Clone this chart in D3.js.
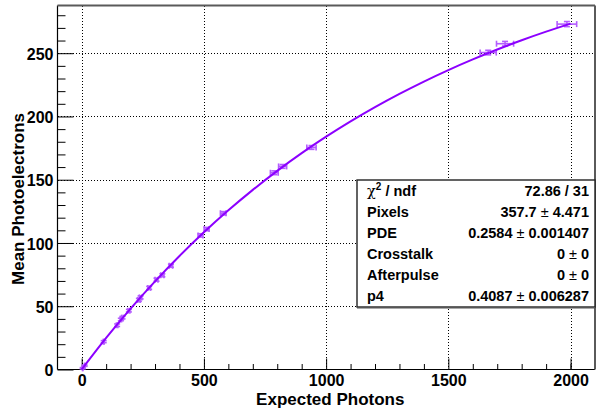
<!DOCTYPE html>
<html><head><meta charset="utf-8">
<script src="https://cdn.jsdelivr.net/npm/d3@7/dist/d3.min.js"></script>
<style>
html,body{margin:0;padding:0;background:#fff;}
svg{display:block;font-family:"Liberation Sans",Arial,Helvetica,sans-serif;font-weight:bold;}
</style></head>
<body>
<svg id="chart" width="596" height="408"></svg>
<script>
// ---- data ----
const photons   = [4, 12, 90, 145, 160, 167, 193, 234, 241, 276, 306, 330, 365, 486, 511, 579, 788, 822, 940, 1663, 1732, 1985];
const meanPE    = [1.0, 3.0, 22.0, 35.0, 39.5, 41.0, 46.5, 55.0, 57.0, 64.5, 71.0, 74.5, 82.0, 106.0, 111.0, 123.5, 155.5, 160.5, 175.5, 250.5, 257.5, 273.0];
const photonErr = [1, 1, 2, 3, 3, 3.5, 4, 5, 5, 5.5, 6, 6.5, 7, 10, 10, 11.5, 16, 16.5, 19, 33, 35, 40];
const peErr     = [0.5, 0.5, 0.8, 1.0, 1.0, 1.0, 1.0, 1.2, 1.2, 1.2, 1.2, 1.2, 1.2, 1.3, 1.3, 1.3, 1.5, 1.5, 1.5, 1.8, 1.8, 2.0];
// fit curve, sampled every 100 photons
const fitX = [0, 100, 200, 300, 400, 500, 600, 700, 800, 900, 1000, 1100, 1200, 1300, 1400, 1500, 1600, 1700, 1800, 1900, 2000];
const fitY = [0, 24.93, 48.12, 69.68, 89.73, 108.45, 125.80, 141.97, 157.00, 170.98, 184.0, 196.10, 207.37, 217.84, 227.59, 236.66, 245.10, 252.94, 260.25, 267.04, 273.36];
const xMajor = [0, 500, 1000, 1500, 2000];
const xMinor = [100, 200, 300, 400, 600, 700, 800, 900, 1100, 1200, 1300, 1400, 1600, 1700, 1800, 1900, 2000];
const yMajor = [0, 50, 100, 150, 200, 250];
const yMinor = [10, 20, 30, 40, 60, 70, 80, 90, 110, 120, 130, 140, 160, 170, 180, 190, 210, 220, 230, 240, 260, 270, 280];
const statLabels = ["χ2 / ndf", "Pixels", "PDE", "Crosstalk", "Afterpulse", "p4"];
const statValues = ["72.86 / 31", "357.7 ± 4.471", "0.2584 ± 0.001407", "0 ±|0", "0 ±|0", "0.4087 ± 0.006287"];
const xTitle = "Expected Photons";
const yTitle = "Mean Photoelectrons";

// ---- layout ----
const L = 57.5, R = 595, T = 5.5, B = 369.5;
const svg = d3.select("#chart");
const x = d3.scaleLinear().domain([-99, 2100]).range([L, R]);
const y = d3.scaleLinear().domain([0, 287.7]).range([B, T]);
const lineCol = "#8c00ff", errCol = "#b45cff";

// grid
const grid = svg.append("g");
grid.selectAll("line.gx").data(xMajor).join("line").attr("class", "gx")
  .attr("x1", d => Math.round(x(d)) + 0.5).attr("x2", d => Math.round(x(d)) + 0.5)
  .attr("y1", 6).attr("y2", 369);
grid.selectAll("line.gy").data(yMajor.filter(d => d > 0)).join("line").attr("class", "gy")
  .attr("y1", d => Math.round(y(d)) + 0.5).attr("y2", d => Math.round(y(d)) + 0.5)
  .attr("x1", 58).attr("x2", 595);
grid.selectAll("line").attr("stroke", "#000").attr("stroke-width", 1)
  .attr("stroke-dasharray", "1,2").attr("fill", "none");

// axes
const fontTick = "16px";
const gx = svg.append("g").attr("transform", `translate(0,${B})`)
  .call(d3.axisBottom(x).tickValues(xMajor).tickSize(-11).tickPadding(5).tickFormat(d3.format("d")));
const gxm = svg.append("g").attr("transform", `translate(0,${B})`)
  .call(d3.axisBottom(x).tickValues(xMinor).tickSize(-5.5).tickFormat(""));
const gy = svg.append("g").attr("transform", `translate(${L},0)`)
  .call(d3.axisLeft(y).tickValues(yMajor).tickSize(-16).tickPadding(4).tickFormat(d3.format("d")));
const gym = svg.append("g").attr("transform", `translate(${L},0)`)
  .call(d3.axisLeft(y).tickValues(yMinor).tickSize(-8).tickFormat(""));
[gx, gxm, gy, gym].forEach(g => {
  g.select(".domain").remove();
  g.selectAll("line").attr("stroke", "#000").attr("stroke-width", 1);
  g.selectAll("text").attr("font-family", "Liberation Sans, Arial, sans-serif")
    .attr("font-weight", "bold").attr("font-size", fontTick).attr("fill", "#000");
});
gy.selectAll("text").attr("dy", "0.38em");

// frame
svg.append("line").attr("x1", L).attr("x2", R).attr("y1", B).attr("y2", B).attr("stroke", "#000").attr("stroke-width", 1.2);
svg.append("line").attr("x1", L).attr("x2", L).attr("y1", T).attr("y2", B).attr("stroke", "#000").attr("stroke-width", 1.2);
svg.append("line").attr("x1", L).attr("x2", R).attr("y1", T).attr("y2", T).attr("stroke", "#5a5a5a").attr("stroke-width", 2);
svg.append("line").attr("x1", R).attr("x2", R).attr("y1", T).attr("y2", B).attr("stroke", "#5a5a5a").attr("stroke-width", 2);

// error bars
const pts = photons.map((d, i) => ({x: d, y: meanPE[i], ex: photonErr[i], ey: peErr[i]}));
const eg = svg.append("g").attr("stroke", errCol).attr("stroke-width", 1.6).attr("fill", "none");
pts.forEach(p => {
  const cx = x(p.x), cy = y(p.y), x0 = x(p.x - p.ex), x1 = x(p.x + p.ex);
  const y0 = y(p.y - p.ey), y1 = y(p.y + p.ey);
  eg.append("line").attr("x1", x0).attr("x2", x1).attr("y1", cy).attr("y2", cy);
  eg.append("line").attr("x1", x0).attr("x2", x0).attr("y1", cy - 3).attr("y2", cy + 3);
  eg.append("line").attr("x1", x1).attr("x2", x1).attr("y1", cy - 3).attr("y2", cy + 3);
  eg.append("line").attr("x1", cx).attr("x2", cx).attr("y1", y0).attr("y2", y1);
  eg.append("line").attr("x1", cx - 3).attr("x2", cx + 3).attr("y1", y0).attr("y2", y0);
  eg.append("line").attr("x1", cx - 3).attr("x2", cx + 3).attr("y1", y1).attr("y2", y1);
});

// fit curve
const fit = fitX.map((d, i) => [d, fitY[i]]);
svg.append("path").datum(fit)
  .attr("d", d3.line().x(d => x(d[0])).y(d => y(d[1])).curve(d3.curveMonotoneX))
  .attr("fill", "none").attr("stroke", lineCol).attr("stroke-width", 2);

// axis titles
svg.append("text").attr("x", (L + R) / 2 + 4).attr("y", 405).attr("text-anchor", "middle")
  .attr("font-size", "17px").text(xTitle);
svg.append("text").attr("transform", `translate(23.5,199) rotate(-90)`)
  .attr("text-anchor", "middle").attr("font-size", "17px").text(yTitle);

// stats box
const bx = 357, by = 180, bw = R - bx, bh = 127, rowH = bh / statLabels.length;
svg.append("rect").attr("x", bx).attr("y", by).attr("width", bw).attr("height", bh)
  .attr("fill", "#fff").attr("stroke", "#222").attr("stroke-width", 1.4);
svg.append("line").attr("x1", bx).attr("x2", R).attr("y1", by + bh + 0.7).attr("y2", by + bh + 0.7)
  .attr("stroke", "#555").attr("stroke-width", 1.5);
const sg = svg.append("g").attr("font-size", "14.5px");
statLabels.forEach((lab, i) => {
  const cy = by + rowH * (i + 0.5) + 5;
  const t = sg.append("text").attr("x", bx + 10).attr("y", cy);
  if (lab.startsWith("χ2")) {
    t.append("tspan").attr("font-weight", "normal").attr("font-family", "DejaVu Serif, serif").text("χ");
    t.append("tspan").attr("dy", -6).attr("font-size", "10px").text("2");
    t.append("tspan").attr("dy", 6).text(" / ndf");
  } else t.text(lab);
  const v = statValues[i];
  if (v.includes("|")) {
    const [a, b] = v.split("|");
    const t1 = sg.append("text").attr("x", R - 18).attr("y", cy).attr("text-anchor", "end");
    t1.append("tspan").text(a.replace(" ±", " "));
    t1.append("tspan").attr("font-weight", "normal").text("±");
    sg.append("text").attr("x", R - 6).attr("y", cy).attr("text-anchor", "end").text(b);
  } else if (v.includes("±")) {
    const [a, b] = v.split("±");
    const t1 = sg.append("text").attr("x", R - 6).attr("y", cy).attr("text-anchor", "end");
    t1.append("tspan").text(a);
    t1.append("tspan").attr("font-weight", "normal").text("±");
    t1.append("tspan").text(b);
  } else {
    sg.append("text").attr("x", R - 6).attr("y", cy).attr("text-anchor", "end").text(v);
  }
});
</script>
</body></html>
